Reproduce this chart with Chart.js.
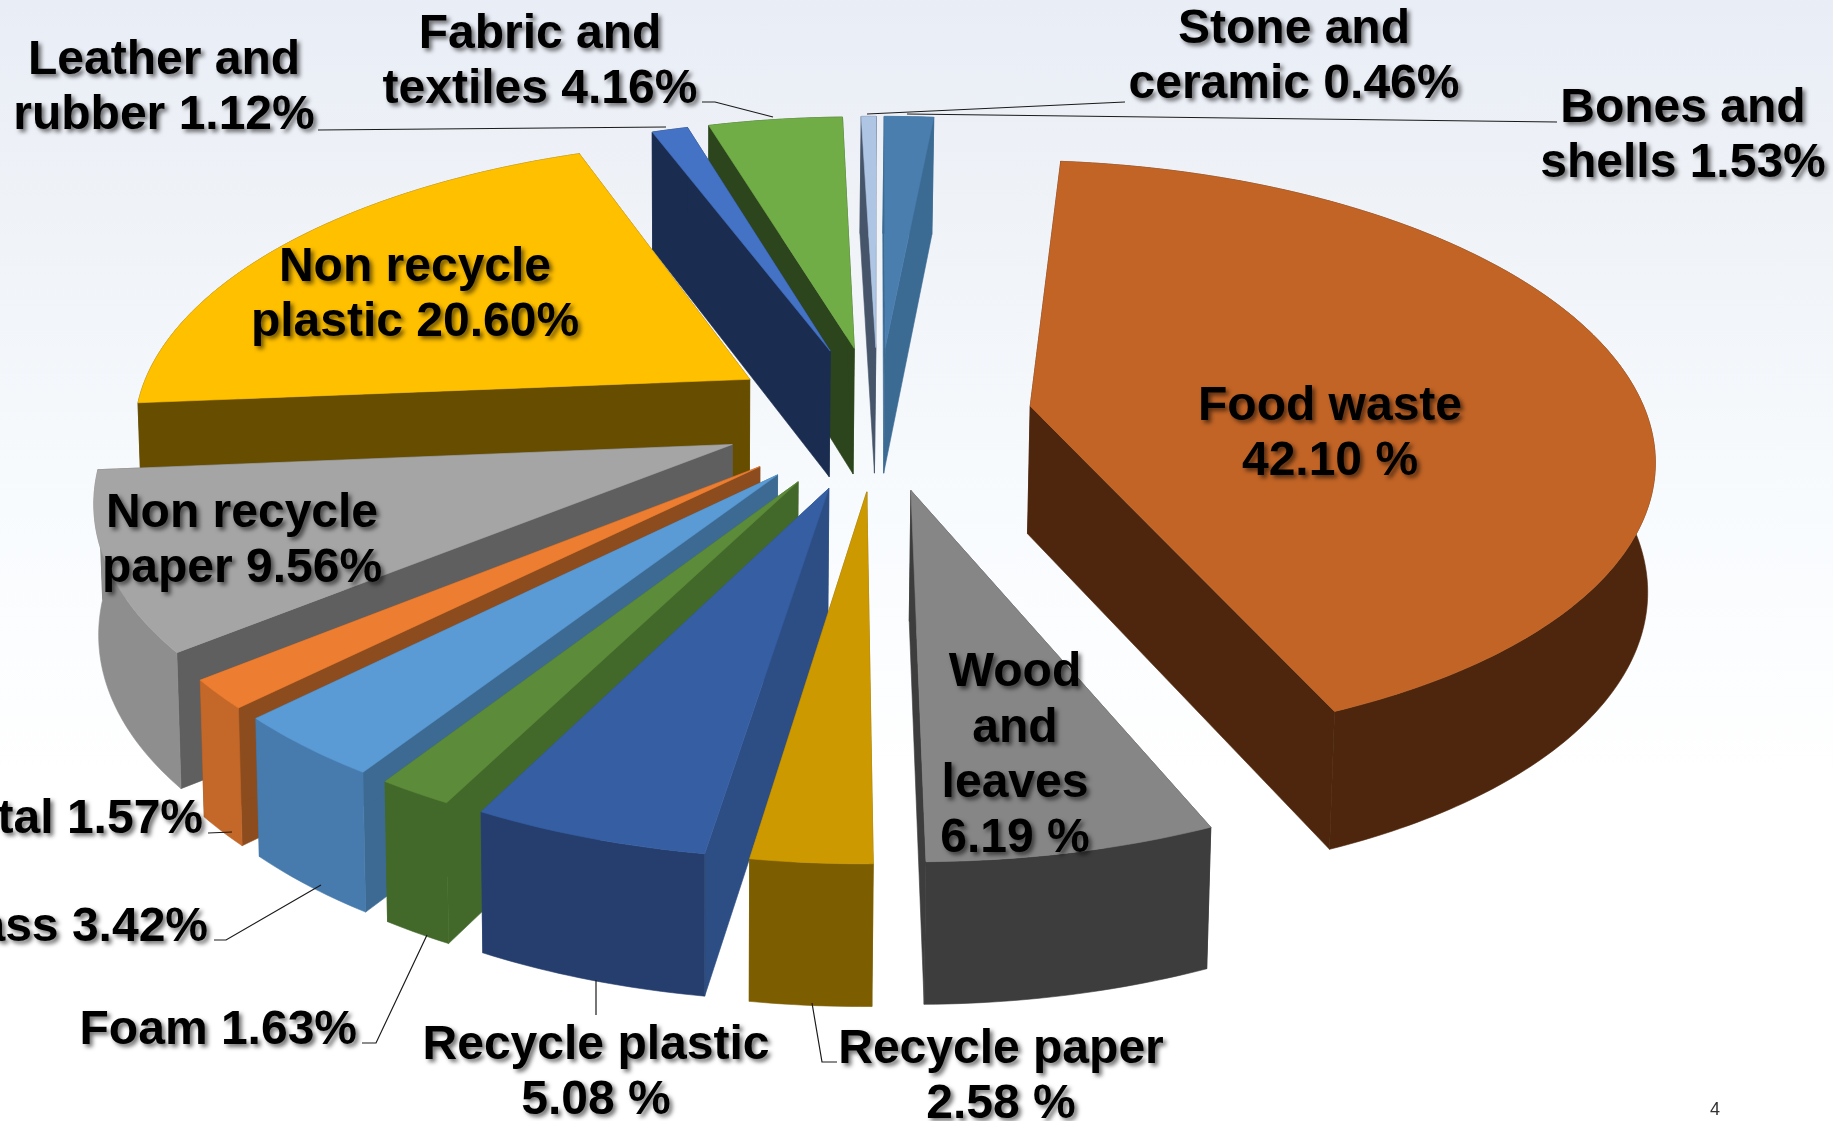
<!DOCTYPE html>
<html>
<head>
<meta charset="utf-8">
<title>Waste composition</title>
<script src="https://cdn.jsdelivr.net/npm/chart.js@4"></script>
<style>
  html, body { margin: 0; padding: 0; width: 1833px; height: 1121px; overflow: hidden; }
  body { background: linear-gradient(180deg, #e9edf6 0%, #f0f3f7 22%, #f8fbfe 45%, #ffffff 70%); }
  #wrap { position: absolute; left: 0; top: 0; width: 1833px; height: 1121px; }
</style>
</head>
<body>
<div id="wrap"><canvas id="wastePie"></canvas></div>
<script>
// Slices in clockwise order, starting at 12 o'clock
const categories = ['Bones and shells', 'Food waste', 'Wood and leaves', 'Recycle paper', 'Recycle plastic',
  'Foam', 'Glass', 'Metal', 'Non recycle paper', 'Non recycle plastic', 'Leather and rubber',
  'Fabric and textiles', 'Stone and ceramic'];
const shares = [1.53, 42.10, 6.19, 2.58, 5.08, 1.63, 3.42, 1.57, 9.56, 20.60, 1.12, 4.16, 0.46];

const labelLines = [
  ['Bones and', 'shells 1.53%'], ['Food waste', '42.10 %'], ['Wood', 'and', 'leaves', '6.19 %'],
  ['Recycle paper', '2.58 %'], ['Recycle plastic', '5.08 %'], ['Foam 1.63%'], ['Glass 3.42%'], ['Metal 1.57%'],
  ['Non recycle', 'paper 9.56%'], ['Non recycle', 'plastic 20.60%'], ['Leather and', 'rubber 1.12%'],
  ['Fabric and', 'textiles 4.16%'], ['Stone and', 'ceramic 0.46%']
];

// Face colours per slice
const topColors = ['#4a7eaf', '#c26426', '#868686', '#cc9900', '#365ea3', '#5c8c3a', '#5b9bd5', '#ed7d31', '#a5a5a5', '#ffc000', '#4472c4', '#70ad47', '#aec5e4'];
const sideColors = ['#3b6a93', '#4d260d', '#3d3d3d', '#7c5e00', '#2d4e85', '#43692a', '#3c6a93', '#8c4c1e', '#5f5f5f', '#664d00', '#1a2d50', '#2c451c', '#47556b'];
const rimColors = ['#3b6a93', '#4d260d', '#3d3d3d', '#7c5e00', '#253e6d', '#43692a', '#477bad', '#c4682a', '#8e8e8e', '#664d00', '#1a2d50', '#2c451c', '#47556b'];

// Label anchors: [x, first line y, line height, align]
const labelPos = [
  [1683, 109, 55, 'center'], [1330, 407, 55, 'center'], [1015, 673, 55.3, 'center'], [1001, 1050, 55, 'center'],
  [596, 1046, 55, 'center'], [357, 1031, 55, 'right'], [208, 928, 55, 'right'], [203, 820, 55, 'right'],
  [242, 514, 55, 'center'], [415, 268, 55, 'center'], [164, 61, 55, 'center'], [540, 35, 55, 'center'], [1294, 30, 55, 'center']
];

const leaderLines = [
  [[907, 114], [1557, 122]], [[596, 980], [596, 1015]], [[812, 1003], [822, 1062], [837, 1062]],
  [[362, 1043], [376, 1043], [427, 935]], [[214, 940], [226, 940], [321, 885]], [[208, 833], [232, 832]],
  [[318, 130], [666, 127]], [[702, 102], [715, 102], [773, 117]], [[867, 114], [1125, 102]]
];

// Tilted view of the pie plane
const view = { cx: 878, cy: 417, ax: 617, ay: 287.4, persp: 0.1565, depth: 128, floorX: 700, floor: 0.992 };

function project(X, Y, low) {
  const f = 1 / (1 - view.persp * Y);
  let x = view.cx + view.ax * X * f;
  let y = view.cy + view.ay * Y * f;
  if (low) {
    x = view.floorX + (x - view.floorX) * view.floor;
    y += view.depth * Math.sqrt(f);
  }
  return [x, y];
}

function fillPoly(ctx, pts, color) {
  ctx.beginPath();
  pts.forEach((p, i) => i ? ctx.lineTo(p[0], p[1]) : ctx.moveTo(p[0], p[1]));
  ctx.closePath();
  ctx.fillStyle = color;
  ctx.strokeStyle = color;
  ctx.lineWidth = 0.6;
  ctx.fill();
  ctx.stroke();
}

// Draws the arc elements of the pie as extruded wedges on the tilted plane
const tiltedPie = {
  id: 'tiltedPie',
  beforeDatasetsDraw(chart) {
    const ctx = chart.ctx;
    const arcs = chart.getDatasetMeta(0).data;

    const wedges = arcs.map((arc, i) => {
      const { startAngle, endAngle, outerRadius } = arc.getProps(['startAngle', 'endAngle', 'outerRadius'], true);
      const e = arc.options.offset / outerRadius;
      const mid = (startAngle + endAngle) / 2;
      const ox = Math.cos(mid) * e;
      const oy = Math.sin(mid) * e;
      const plan = [];
      const steps = Math.max(2, Math.ceil((endAngle - startAngle) / 0.015));
      for (let s = 0; s <= steps; s++) {
        const a = startAngle + (endAngle - startAngle) * s / steps;
        plan.push([Math.cos(a) + ox, Math.sin(a) + oy]);
      }
      return { i, ox, oy, plan, midY: Math.sin(mid) };
    }).sort((a, b) => a.midY - b.midY);

    wedges.forEach(w => {
      const apex = [w.ox, w.oy];
      const first = w.plan[0];
      const last = w.plan[w.plan.length - 1];
      const rimTop = w.plan.map(p => project(p[0], p[1], false));
      const rimLow = w.plan.map(p => project(p[0], p[1], true)).reverse();
      const wall = (p) => [project(apex[0], apex[1], false), project(p[0], p[1], false), project(p[0], p[1], true), project(apex[0], apex[1], true)];

      if (w.midY < 0) fillPoly(ctx, rimTop.concat(rimLow), rimColors[w.i]);
      fillPoly(ctx, wall(first), sideColors[w.i]);
      fillPoly(ctx, wall(last), sideColors[w.i]);
      if (w.midY >= 0) fillPoly(ctx, rimTop.concat(rimLow), rimColors[w.i]);
      fillPoly(ctx, [project(apex[0], apex[1], false)].concat(rimTop), topColors[w.i]);
    });
    return false;
  },
  afterDraw(chart) {
    const ctx = chart.ctx;
    ctx.save();

    ctx.strokeStyle = '#1a1a1a';
    ctx.lineWidth = 1.2;
    leaderLines.forEach(line => {
      ctx.beginPath();
      line.forEach((p, i) => i ? ctx.lineTo(p[0], p[1]) : ctx.moveTo(p[0], p[1]));
      ctx.stroke();
    });

    ctx.font = 'bold 48px "Liberation Sans", Arial, sans-serif';
    ctx.textBaseline = 'middle';
    ctx.fillStyle = '#000';
    ctx.shadowColor = 'rgba(0, 0, 0, 0.55)';
    ctx.shadowOffsetX = 3;
    ctx.shadowOffsetY = 3;
    ctx.shadowBlur = 4;
    labelLines.forEach((lines, i) => {
      const [x, y, lh, align] = labelPos[i];
      ctx.textAlign = align;
      lines.forEach((t, n) => ctx.fillText(t, x, y + n * lh));
    });

    // slide number
    ctx.shadowColor = 'transparent';
    ctx.font = '18px "Liberation Sans", Arial, sans-serif';
    ctx.textAlign = 'center';
    ctx.fillStyle = '#333';
    ctx.fillText('4', 1715, 1110);
    ctx.restore();
  }
};

new Chart(document.getElementById('wastePie'), {
  type: 'pie',
  data: {
    labels: categories,
    datasets: [{ data: shares, backgroundColor: topColors, borderWidth: 0, offset: 125 }]
  },
  options: {
    responsive: true,
    maintainAspectRatio: false,
    animation: false,
    plugins: { legend: { display: false }, tooltip: { enabled: false } }
  },
  plugins: [tiltedPie]
});
</script>
</body>
</html>
